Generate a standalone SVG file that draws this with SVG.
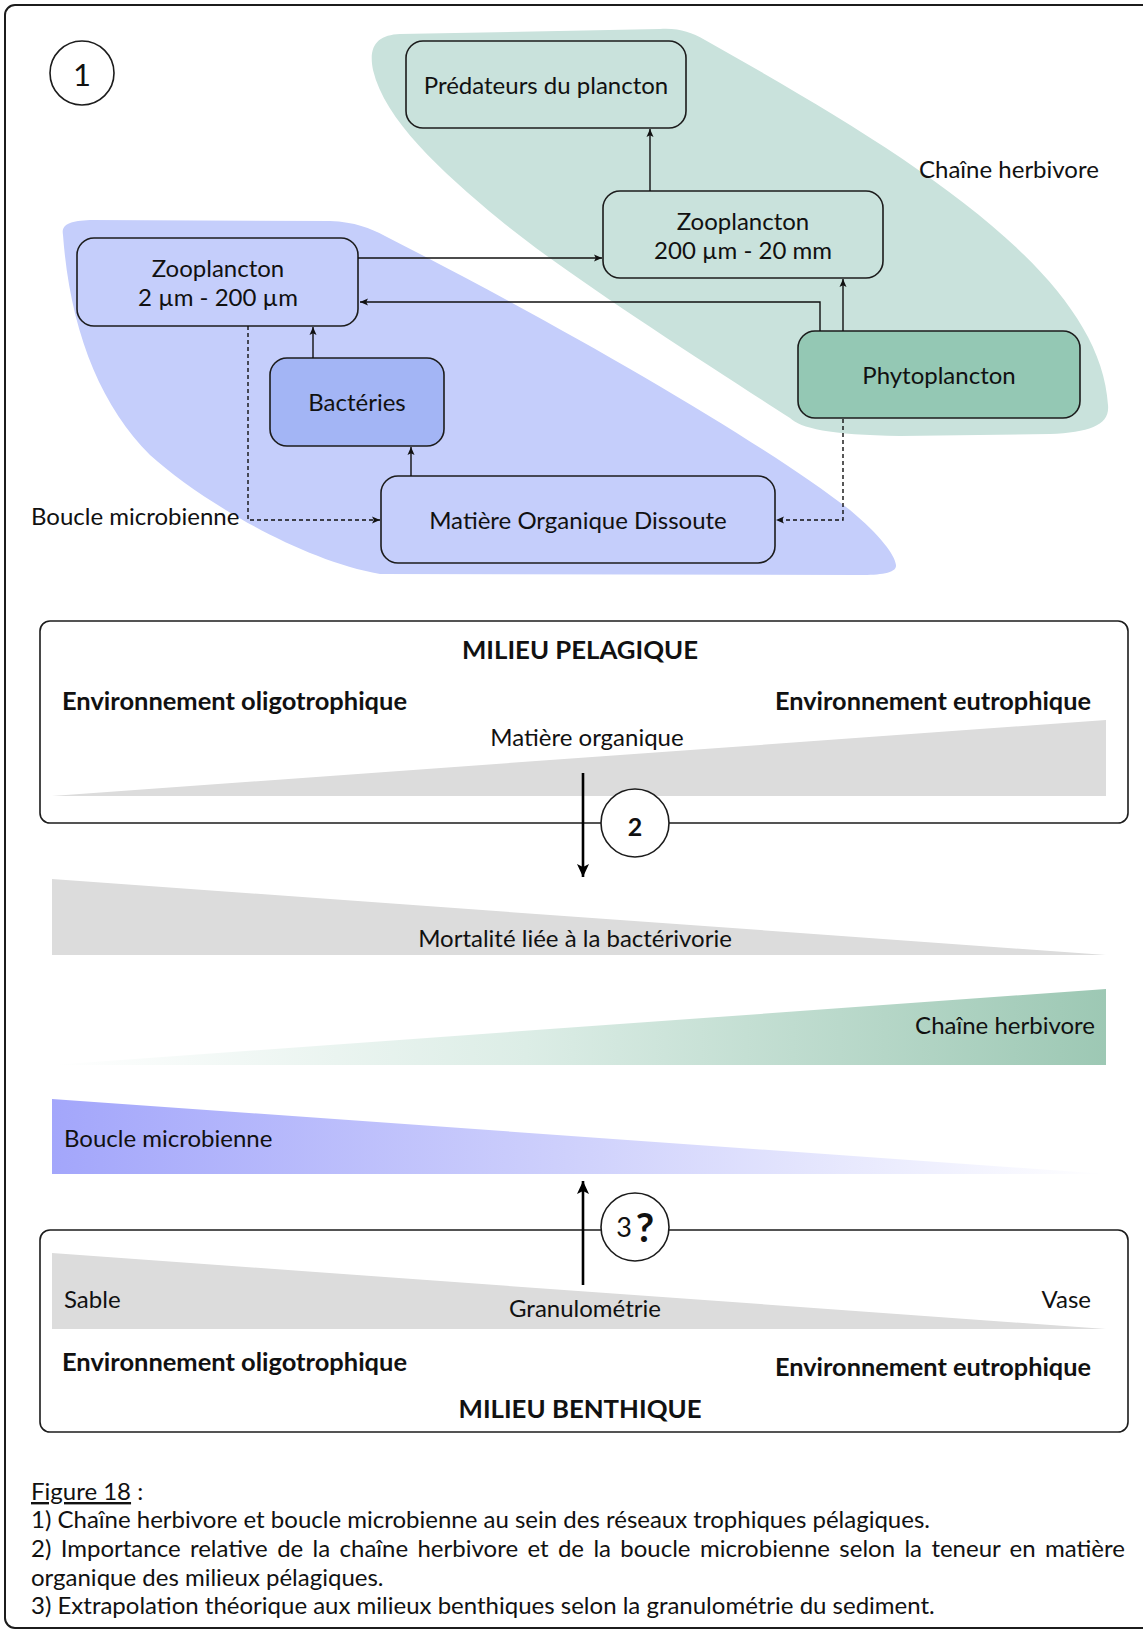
<svg xmlns="http://www.w3.org/2000/svg" width="1143" height="1631" viewBox="0 0 1143 1631">
<defs>
<style>
text{font-family:Lato,"Liberation Sans",sans-serif;fill:#111;}
.n{font-size:24px;text-anchor:middle;}
.t{font-size:24px;}
.b{font-size:25px;font-weight:bold;}
.cap{font-size:24px;}
.box{stroke:#1c1c1c;stroke-width:1.6;}
.ln{fill:none;stroke:#111;stroke-width:1.4;}
.dash{fill:none;stroke:#111;stroke-width:1.4;stroke-dasharray:4 3;}
.frame{fill:none;stroke:#1c1c1c;stroke-width:2;}
.big{fill:none;stroke:#000;stroke-width:2.6;}
.circ{fill:#fff;stroke:#1c1c1c;stroke-width:1.6;}
.gray{fill:#dcdcdc;}
</style>
<marker id="ah" markerUnits="userSpaceOnUse" markerWidth="9" markerHeight="8" refX="8" refY="4" orient="auto">
<path d="M0,0.5 L8,4 L0,7.5 L1.8,4 z" fill="#111"/>
</marker>
<marker id="ahb" markerUnits="userSpaceOnUse" markerWidth="14" markerHeight="13" refX="13" refY="6.5" orient="auto">
<path d="M0,0.5 L13,6.5 L0,12.5 L3,6.5 z" fill="#000"/>
</marker>
<linearGradient id="gHerb" x1="52" y1="0" x2="1106" y2="0" gradientUnits="userSpaceOnUse">
<stop offset="0" stop-color="#ffffff"/>
<stop offset="0.45" stop-color="#dcede6"/>
<stop offset="1" stop-color="#9dc8b4"/>
</linearGradient>
<linearGradient id="gMicro" x1="52" y1="0" x2="1106" y2="0" gradientUnits="userSpaceOnUse">
<stop offset="0" stop-color="#a3a6fb"/>
<stop offset="0.5" stop-color="#cfd1fc"/>
<stop offset="1" stop-color="#ffffff"/>
</linearGradient>
</defs>

<rect class="frame" x="5" y="5" width="1200" height="1623" rx="10"/>

<g id="section1">
<path id="blob-herbivore" d="M373,70 C368,45 378,35 400,34 L660,29 C680,28 690,32 705,40 C900,150 1100,270 1108,405 C1110,425 1090,432 1050,434 L900,436 C830,435 800,428 790,418 C700,360 560,270 500,220 C440,170 385,120 373,70 Z" fill="#c9e2dc"/>
<path id="blob-microbienne" d="M63,235 C61,224 70,221 90,220 L330,221 C355,222 370,228 385,236 C560,325 760,440 850,510 C880,535 895,555 896,565 C897,573 880,575 860,575 L380,574 C300,560 200,500 150,455 C100,405 70,330 63,235 Z" fill="#c5cefb"/>

<g id="label-1">
<circle class="circ" cx="82" cy="73" r="32"/>
<text x="82" y="86" style="font-size:31px;text-anchor:middle">1</text>
</g>

<g id="n-predateurs">
<rect class="box" x="406" y="41" width="280" height="87" rx="17" fill="#c9e2dc"/>
<text class="n" x="546" y="94">Prédateurs du plancton</text>
</g>
<g id="n-zoo200">
<rect class="box" x="603" y="191" width="280" height="87" rx="17" fill="#c9e2dc"/>
<text class="n" x="743" y="230">Zooplancton</text>
<text class="n" x="743" y="259">200 µm - 20 mm</text>
</g>
<g id="n-zoo2">
<rect class="box" x="77" y="238" width="281" height="88" rx="17" fill="#c5cefb"/>
<text class="n" x="218" y="277">Zooplancton</text>
<text class="n" x="218" y="306">2 µm - 200 µm</text>
</g>
<g id="n-phyto">
<rect class="box" x="798" y="331" width="282" height="87" rx="17" fill="#94c8b4"/>
<text class="n" x="939" y="384">Phytoplancton</text>
</g>
<g id="n-bact">
<rect class="box" x="270" y="358" width="174" height="88" rx="17" fill="#a3b5f5"/>
<text class="n" x="357" y="411">Bactéries</text>
</g>
<g id="n-mod">
<rect class="box" x="381" y="476" width="394" height="87" rx="17" fill="#c5cefb"/>
<text class="n" x="578" y="529">Matière Organique Dissoute</text>
</g>

<text id="lbl-herb" class="t" x="919" y="178">Chaîne herbivore</text>
<text id="lbl-micro" class="t" x="31" y="525">Boucle microbienne</text>
</g>

<g id="connectors">
<path class="ln" d="M358,258 H602" marker-end="url(#ah)"/>
<path class="ln" d="M820,331 V302 H360" marker-end="url(#ah)"/>
<path class="ln" d="M843,331 V279" marker-end="url(#ah)"/>
<path class="ln" d="M650,191 V129" marker-end="url(#ah)"/>
<path class="ln" d="M313,358 V327" marker-end="url(#ah)"/>
<path class="ln" d="M411,476 V447" marker-end="url(#ah)"/>
<path class="dash" d="M248,326 V520 H380" marker-end="url(#ah)"/>
<path class="dash" d="M843,419 V520 H776" marker-end="url(#ah)"/>
</g>

<g id="pelagique">
<rect class="box" x="40" y="621" width="1088" height="202" rx="10" fill="none"/>
<text class="b" x="580" y="659" text-anchor="middle" textLength="236" lengthAdjust="spacingAndGlyphs">MILIEU PELAGIQUE</text>
<text class="b" x="62" y="710" textLength="345" lengthAdjust="spacingAndGlyphs">Environnement oligotrophique</text>
<text class="b" x="775" y="710" textLength="316" lengthAdjust="spacingAndGlyphs">Environnement eutrophique</text>
<polygon class="gray" points="52,796 1106,720 1106,796"/>
<text class="t" x="587" y="746" text-anchor="middle">Matière organique</text>
</g>

<g id="gradients">
<polygon class="gray" points="52,879 52,955 1106,955"/>
<text class="t" x="575" y="947" text-anchor="middle">Mortalité liée à la bactérivorie</text>
<polygon points="52,1065 1106,989 1106,1065" fill="url(#gHerb)"/>
<text class="t" x="1095" y="1034" text-anchor="end">Chaîne herbivore</text>
<polygon points="52,1099 52,1174 1106,1174" fill="url(#gMicro)"/>
<text class="t" x="64" y="1147">Boucle microbienne</text>
</g>

<g id="benthique">
<rect class="box" x="40" y="1230" width="1088" height="202" rx="10" fill="none"/>
<polygon class="gray" points="52,1253 52,1329 1106,1329"/>
<text class="t" x="64" y="1308">Sable</text>
<text class="t" x="1091" y="1308" text-anchor="end">Vase</text>
<text class="t" x="585" y="1317" text-anchor="middle">Granulométrie</text>
<text class="b" x="62" y="1371" textLength="345" lengthAdjust="spacingAndGlyphs">Environnement oligotrophique</text>
<text class="b" x="775" y="1376" textLength="316" lengthAdjust="spacingAndGlyphs">Environnement eutrophique</text>
<text class="b" x="580" y="1418" text-anchor="middle" textLength="243" lengthAdjust="spacingAndGlyphs">MILIEU BENTHIQUE</text>
</g>

<g id="arrows-2-3">
<path class="big" d="M583,773 V877" marker-end="url(#ahb)"/>
<path class="big" d="M583,1285 V1181" marker-end="url(#ahb)"/>
</g>
<g id="label-2">
<circle class="circ" cx="635" cy="823" r="34"/>
<text x="635" y="836" style="font-size:25px;text-anchor:middle;font-weight:bold">2</text>
</g>
<g id="label-3">
<circle class="circ" cx="635" cy="1227" r="34"/>
<text x="624" y="1237" style="font-size:27px;text-anchor:middle">3</text>
<text x="645" y="1242" style="font-size:40px;text-anchor:middle;font-weight:bold">?</text>
</g>

<g id="caption">
<text class="cap" x="31" y="1500"><tspan text-decoration="underline">Figure 18</tspan> :</text>
<text class="cap" x="31" y="1528">1) Chaîne herbivore et boucle microbienne au sein des réseaux trophiques pélagiques.</text>
<text class="cap" x="31" y="1557" word-spacing="3.2">2) Importance relative de la chaîne herbivore et de la boucle microbienne selon la teneur en matière</text>
<text class="cap" x="31" y="1586">organique des milieux pélagiques.</text>
<text class="cap" x="31" y="1614">3) Extrapolation théorique aux milieux benthiques selon la granulométrie du sediment.</text>
</g>
</svg>
